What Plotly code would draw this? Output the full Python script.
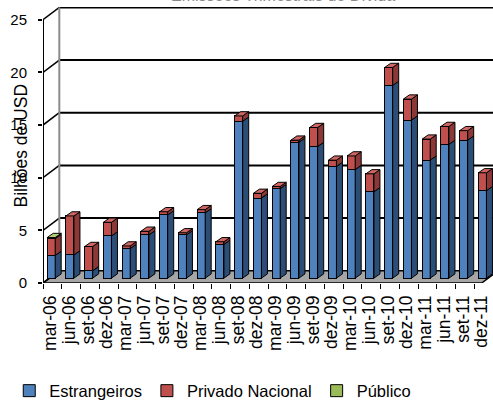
import plotly.graph_objects as go

# Quarterly issuance, billions of USD
quarters = ["mar-06", "jun-06", "set-06", "dez-06", "mar-07", "jun-07", "set-07", "dez-07",
            "mar-08", "jun-08", "set-08", "dez-08", "mar-09", "jun-09", "set-09", "dez-09",
            "mar-10", "jun-10", "set-10", "dez-10", "mar-11", "jun-11", "set-11", "dez-11"]
estrangeiros = [2.15, 2.2, 0.7, 4.0, 2.8, 4.1, 6.0, 4.1, 6.2, 3.2, 14.9, 7.6,
                8.5, 12.9, 12.5, 10.6, 10.3, 8.2, 18.3, 15.0, 11.2, 12.7, 13.1, 8.3]
privado_nacional = [1.6, 3.7, 2.3, 1.3, 0.25, 0.35, 0.3, 0.2, 0.3, 0.25, 0.5, 0.45,
                    0.2, 0.2, 1.8, 0.6, 1.3, 1.7, 1.7, 2.0, 2.0, 1.7, 0.9, 1.7]
publico = [0.1] + [0.0] * 23
y_ticks = [0, 5, 10, 15, 20, 25]

series = [
    ("Estrangeiros", estrangeiros, "#4f81bd", "#2c4d75", "#6f97cc"),
    ("Privado Nacional", privado_nacional, "#c0504d", "#8c3836", "#cf6663"),
    ("Público", publico, "#9bbb59", "#71893f", "#b1cc78"),
]

W, H = 493, 409
ML, MT, MB = 43, 7, 121
YMAX = 26.21            # axis top so that 25 sits a wall-depth below the frame top
BASE_SHIFT = 0.466      # bars stand a little behind the front edge
DX, DY = 0.87, 1.17     # depth of the box (back wall offset)
BW, BOFF = 0.427, -0.277  # bar width / left offset in category units
ddx, ddy = 0.32, 0.40   # bar depth

fig = go.Figure()

n = len(quarters)
xs = list(range(n))

for name, vals, front, side, top in series:
    fig.add_trace(go.Bar(
        x=xs, y=vals, name=name, yaxis="y2",
        width=BW, offset=BOFF,
        marker=dict(color=front, line=dict(color="black", width=1)),
    ))

# side and top faces of every stacked segment
totals = [0.0] * n
side_polys = {s[0]: ([], []) for s in series}
top_polys = {s[0]: ([], []) for s in series}
grand = [e + p + q for e, p, q in zip(estrangeiros, privado_nacional, publico)]
for name, vals, front, side, top in series:
    sx, sy = side_polys[name]
    tx, ty = top_polys[name]
    for i in range(n):
        v = vals[i]
        if v <= 0:
            continue
        y0 = totals[i]
        y1 = y0 + v
        xl = i + BOFF
        xr = xl + BW
        sx += [xr, xr + ddx, xr + ddx, xr, xr, None]
        sy += [y0, y0 + ddy, y1 + ddy, y1, y0, None]
        if abs(y1 - grand[i]) < 1e-9:
            tx += [xl, xl + ddx, xr + ddx, xr, xl, None]
            ty += [y1, y1 + ddy, y1 + ddy, y1, y1, None]
        totals[i] = y1

for name, vals, front, side, top in series:
    sx, sy = side_polys[name]
    tx, ty = top_polys[name]
    if sx:
        fig.add_trace(go.Scatter(x=sx, y=sy, yaxis="y2", mode="lines", fill="toself",
                                 fillcolor=side, line=dict(color="black", width=1),
                                 showlegend=False, hoverinfo="skip"))
    if tx:
        fig.add_trace(go.Scatter(x=tx, y=ty, yaxis="y2", mode="lines", fill="toself",
                                 fillcolor=top, line=dict(color="black", width=1),
                                 showlegend=False, hoverinfo="skip"))

# 3-D box: floor, back wall grid, left wall
shapes = []
x_left = -0.5
x_floor_end = 22.9
shapes.append(dict(type="path", xref="x", yref="y", layer="below",
                   path=f"M{x_left},0 L{x_left + DX},{DY} L{x_floor_end + DX},{DY} L{x_floor_end},0 Z",
                   fillcolor="#a6a6a6", line=dict(color="black", width=1.5)))
for v in y_ticks[1:]:
    shapes.append(dict(type="line", xref="x", yref="y", layer="below",
                       x0=x_left + DX, y0=v + DY, x1=n + 2, y1=v + DY,
                       line=dict(color="black", width=2)))
for v in y_ticks:
    shapes.append(dict(type="line", xref="x", yref="y", layer="below",
                       x0=x_left, y0=v, x1=x_left + DX, y1=v + DY,
                       line=dict(color="black", width=1.5)))
shapes.append(dict(type="line", xref="x", yref="y", layer="below",
                   x0=x_left + DX, y0=DY, x1=x_left + DX, y1=25 + DY,
                   line=dict(color="#8c8c8c", width=2)))
shapes.append(dict(type="line", xref="x", yref="y", layer="below",
                   x0=x_left, y0=0, x1=x_left, y1=25,
                   line=dict(color="black", width=2)))

fig.update_layout(
    width=W, height=H,
    margin=dict(l=ML, r=0, t=MT, b=MB),
    paper_bgcolor="white", plot_bgcolor="white",
    barmode="stack",
    font=dict(family="Liberation Sans, Arial, sans-serif", color="black"),
    shapes=shapes,
    showlegend=True,
    legend=dict(orientation="h", x=-0.075, xanchor="left", y=-0.391, yanchor="middle",
                font=dict(size=16.5), traceorder="normal", itemclick=False),
    xaxis=dict(range=[-0.5, n - 0.5], tickmode="array",
               tickvals=[i - 0.1 for i in xs], ticktext=quarters,
               tickangle=-90, ticks="", tickfont=dict(size=17.5),
               showgrid=False, zeroline=False, showline=False,
               ticklabelstandoff=8,
               minor=dict(tickmode="array", tickvals=[k - 0.5 for k in range(n)],
                          ticks="outside", ticklen=5, tickcolor="black", tickwidth=1,
                          showgrid=False)),
    yaxis=dict(range=[0, YMAX], tickmode="array", tickvals=y_ticks,
               ticks="outside", ticklen=4, tickcolor="black", tickwidth=1.5,
               tickfont=dict(size=15), showgrid=False, zeroline=False, showline=False,
               ticklabelstandoff=8),
    yaxis2=dict(range=[-BASE_SHIFT, YMAX - BASE_SHIFT], overlaying="y", visible=False),
    annotations=[
        dict(text="Bilhões de USD", textangle=-90, xref="paper", yref="paper",
             x=(21 - ML) / 450, y=(288 - 148) / 281, xanchor="center", yanchor="middle",
             showarrow=False, font=dict(size=17.5)),
        dict(text="Emissões Trimestrais de Dívida", xref="paper", yref="paper",
             x=(283 - ML) / 450, y=(288 - 6.3) / 281, xanchor="center", yanchor="bottom",
             showarrow=False, font=dict(size=16, color="#8a8a8a")),
    ],
)

fig.write_html("out.html")
